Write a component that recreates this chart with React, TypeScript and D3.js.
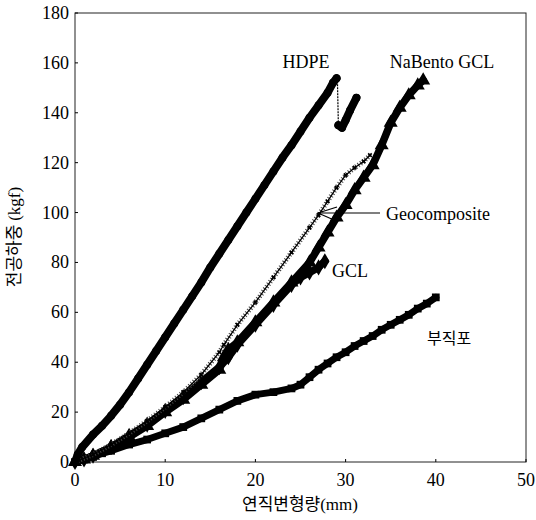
import React from "react";
import * as d3 from "d3";

type Pt = [number, number];

// Axis ticks
const xTicks = [0, 10, 20, 30, 40, 50];
const yTicks = [0, 20, 40, 60, 80, 100, 120, 140, 160, 180];

// HDPE: loading branch up to the peak, then the rebound after the sudden drop
const hdpeLoad: Pt[] = [
  [0, 0], [0.3, 3], [0.8, 6], [2, 11], [3, 14.5], [4, 18.5], [5, 23], [6, 28],
  [7, 33.5], [8, 39], [9, 44.5], [10, 50], [11, 55.5], [12, 61], [13, 66.5],
  [14, 72], [15, 78], [16, 83.5], [17, 89], [18, 94.5], [19, 100], [20, 105.5],
  [21, 111], [22, 116.5], [23, 122], [24, 127], [25, 132.5], [26, 138],
  [27, 143], [28, 148], [28.6, 152], [29, 153.8],
];
const hdpeDrop: Pt[] = [[29, 153.8], [29.1, 152], [29.2, 135]];
const hdpeRebound: Pt[] = [[29.2, 135], [29.6, 134], [30, 137], [30.5, 141], [31.2, 146]];

// NaBento GCL
const nabento: Pt[] = [
  [0, 0], [1, 1], [2, 2.5], [4, 6], [6, 10], [8, 14.5], [10, 20], [12, 25],
  [14, 31], [16, 37], [16.5, 42], [17, 45], [18, 48], [20, 56], [22, 64],
  [24, 72], [26, 80], [27, 86], [28, 92], [29, 98], [30, 103], [31, 109],
  [32, 114], [33, 119], [34, 127], [35, 136], [36, 142], [37, 147], [38, 151],
  [38.6, 153],
];

// Geocomposite
const geocomposite: Pt[] = [
  [0, 0], [2, 3], [4, 7], [6, 11.5], [8, 16.5], [10, 22], [12, 28], [14, 35],
  [16, 44], [16.5, 47], [18, 55], [20, 64], [22, 74], [24, 84], [26, 94],
  [27, 99], [28, 104.5], [29, 110], [30, 115], [31, 118], [32, 120.5], [32.7, 123],
];

// GCL
const gcl: Pt[] = [
  [0, 0], [1, 1], [2, 2.5], [4, 6], [6, 10.5], [8, 15], [10, 20.5], [12, 26],
  [14, 32], [16, 38], [17, 42], [18, 47], [20, 55], [22, 63], [24, 71],
  [25, 74], [26, 76], [27, 78], [27.7, 80.5],
];

// 부직포 (nonwoven geotextile)
const nonwoven: Pt[] = [
  [0, 0], [1, 1], [2, 2], [3, 3.5], [4, 4.5], [6, 7], [8, 9], [10, 11.5],
  [12, 14], [14, 17.5], [16, 21], [18, 24.5], [20, 27], [22, 28], [24, 29.5],
  [25, 31], [26, 34], [27, 37], [28, 39.5], [29, 42], [30, 44], [31, 46.5],
  [32, 48.5], [33, 50.5], [34, 53], [35, 55], [36, 57], [37, 59], [38, 61.5],
  [39, 63.5], [40, 66],
];

const W = 536;
const H = 520;
const x = d3.scaleLinear().domain([0, 50]).range([75, 526]);
const y = d3.scaleLinear().domain([0, 180]).range([462, 13]);

const line = d3
  .line<Pt>()
  .x((d) => x(d[0]))
  .y((d) => y(d[1]))
  .curve(d3.curveLinear);

const serif = "'Liberation Serif', 'DejaVu Serif', serif";
const kr = "'Noto Sans CJK KR', sans-serif";

function Markers({ data, type, size, rotate = 0 }: { data: Pt[]; type: d3.SymbolType; size: number; rotate?: number }) {
  const p = d3.symbol().type(type).size(size)() as string;
  return (
    <g>
      {data.map((d, i) => (
        <path key={i} d={p} transform={`translate(${x(d[0])},${y(d[1])}) rotate(${rotate})`} fill="#000" />
      ))}
    </g>
  );
}

function Band({ data, width }: { data: Pt[]; width: number }) {
  return (
    <path
      d={line(data) as string}
      fill="none"
      stroke="#000"
      strokeWidth={width}
      strokeLinejoin="round"
      strokeLinecap="round"
    />
  );
}

export default function App() {
  return (
    <svg width={W} height={H} style={{ display: "block", position: "absolute", left: 0, top: 0, background: "#fff" }}>
      {/* plot frame */}
      <rect x={x(0)} y={y(180)} width={x(50) - x(0)} height={y(0) - y(180)} fill="none" stroke="#222" strokeWidth={1} />

      {/* inward ticks */}
      {xTicks.map((t) => (
        <line key={"xt" + t} x1={x(t)} x2={x(t)} y1={y(0)} y2={y(0) - 3} stroke="#000" />
      ))}
      {yTicks.map((t) => (
        <line key={"yt" + t} x1={x(0)} x2={x(0) + 3} y1={y(t)} y2={y(t)} stroke="#000" />
      ))}

      {/* tick labels */}
      {xTicks.map((t) => (
        <text key={"xl" + t} x={x(t)} y={486} textAnchor="middle" fontFamily={serif} fontSize={18} fill="#000">
          {t}
        </text>
      ))}
      {yTicks.map((t) => (
        <text key={"yl" + t} x={69} y={y(t) + 6} textAnchor="end" fontFamily={serif} fontSize={18} fill="#000">
          {t}
        </text>
      ))}

      {/* axis titles */}
      <text x={300} y={510} textAnchor="middle" fontSize={17} fill="#000">
        <tspan fontFamily={kr}>연직변형량</tspan>
        <tspan fontFamily={serif}>(mm)</tspan>
      </text>
      <text transform="translate(20,237) rotate(-90)" textAnchor="middle" fontSize={17} fill="#000">
        <tspan fontFamily={kr}>전공하중 </tspan>
        <tspan fontFamily={serif}>(kgf)</tspan>
      </text>

      {/* 부직포 */}
      <Band data={nonwoven} width={7} />
      <Markers data={nonwoven} type={d3.symbolSquare} size={60} />

      {/* GCL */}
      <Band data={gcl} width={7.5} />
      <Markers data={gcl} type={d3.symbolDiamond} size={75} />

      {/* NaBento GCL */}
      <Band data={nabento} width={7.5} />
      <Markers data={nabento} type={d3.symbolTriangle} size={85} />

      {/* Geocomposite: thin line with hair-like cross marks */}
      <path d={line(geocomposite) as string} fill="none" stroke="#444" strokeWidth={5} strokeDasharray="1 2" />
      <path d={line(geocomposite) as string} fill="none" stroke="#000" strokeWidth={1.3} />
      <Markers data={geocomposite} type={d3.symbolCross} size={14} rotate={45} />

      {/* HDPE */}
      <Band data={hdpeLoad} width={8} />
      <Markers data={hdpeLoad} type={d3.symbolCircle} size={50} />
      <path d={line(hdpeDrop) as string} fill="none" stroke="#000" strokeWidth={1.2} strokeDasharray="2 1" />
      <Band data={hdpeRebound} width={8} />
      <Markers data={hdpeRebound} type={d3.symbolCircle} size={50} />

      {/* annotations */}
      <text x={306} y={68} textAnchor="middle" fontFamily={serif} fontSize={18} fill="#000">HDPE</text>
      <text x={442} y={68} textAnchor="middle" fontFamily={serif} fontSize={18} fill="#000">NaBento GCL</text>
      <text x={386} y={220} fontFamily={serif} fontSize={18} fill="#000">Geocomposite</text>
      <g stroke="#000" strokeWidth={1.2} fill="none">
        <line x1={318} y1={213} x2={380} y2={213} />
        <line x1={318} y1={213} x2={337} y2={207} />
        <line x1={318} y1={213} x2={334} y2={220} />
      </g>
      <text x={332} y={277} fontFamily={serif} fontSize={18} fill="#000">GCL</text>
      <text x={427} y={344} fontFamily={kr} fontSize={16} fill="#000">부직포</text>
    </svg>
  );
}
